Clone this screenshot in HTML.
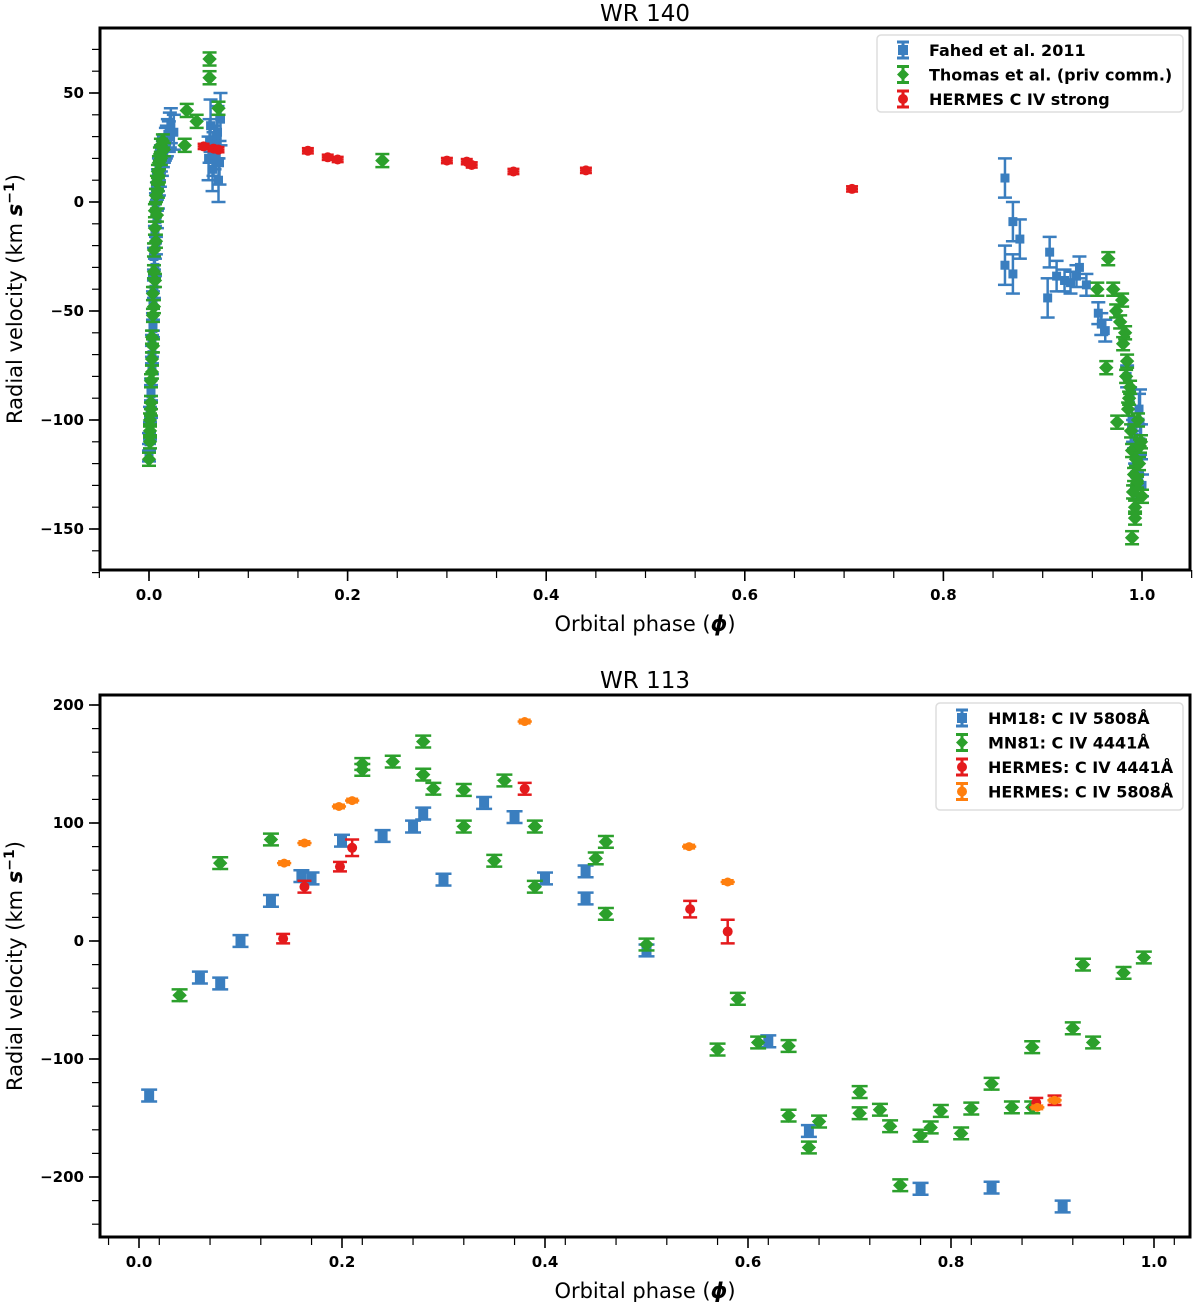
<!DOCTYPE html>
<html><head><meta charset="utf-8"><style>
body{margin:0;background:#fff;}
svg{display:block;font-family:"DejaVu Sans","Liberation Sans",sans-serif;}
.tl{font-weight:bold;font-size:15px;}
</style></head><body>
<svg id="fig" width="1200" height="1302" viewBox="0 0 1200 1302" xmlns="http://www.w3.org/2000/svg"></svg>
<script>
// ===== WR 140 data =====
const t_fahedPhase=[0.000,0.001,0.002,0.002,0.003,0.003,0.004,0.004,0.005,0.005,0.006,0.006,0.007,0.008,0.009,0.010,0.012,0.014,0.016,0.018,0.020,0.022,0.025,0.000,0.001,0.002,0.003,0.004,0.005,0.006,0.007,0.008,0.009,0.010,0.011,0.013,0.015,0.017,0.019,0.021,0.060,0.062,0.064,0.066,0.068,0.070,0.072,0.061,0.065,0.069,0.071,0.862,0.870,0.877,0.862,0.870,0.907,0.905,0.914,0.922,0.928,0.934,0.937,0.944,0.956,0.959,0.963,0.985,0.988,0.990,0.992,0.994,0.996,0.998,1.000,0.997,0.993,0.999,0.995,0.991];
const t_fahedRV=[-115,-105,-95,-85,-75,-65,-55,-45,-35,-25,-15,-5,0,5,10,15,20,22,25,28,30,35,32,-110,-98,-88,-70,-58,-40,-30,-20,-8,2,8,12,18,24,27,31,33,20,35,15,25,30,10,38,28,22,32,18,11,-9,-17,-29,-33,-23,-44,-34,-36,-37,-34,-30,-38,-51,-56,-59,-80,-90,-100,-108,-115,-120,-101,-130,-95,-125,-110,-118,-105];
const t_fahedErr=[4,4,4,4,4,4,4,4,4,4,4,4,4,4,5,5,6,6,6,7,7,8,8,4,4,4,4,4,4,4,4,4,5,5,5,6,6,7,7,8,10,12,10,10,10,10,12,10,10,12,10,9,9,9,9,9,7,9,7,5,5,5,5,5,5,5,5,5,5,5,5,5,5,15,5,7,5,8,6,5];
const t_thomasPhase=[0.000,0.001,0.001,0.002,0.002,0.003,0.003,0.004,0.004,0.005,0.005,0.006,0.006,0.007,0.008,0.009,0.010,0.011,0.012,0.014,0.001,0.002,0.003,0.004,0.005,0.006,0.007,0.008,0.009,0.010,0.012,0.015,0.036,0.038,0.048,0.061,0.061,0.070,0.235,0.966,0.971,0.955,0.974,0.981,0.964,0.985,0.988,0.975,0.990,0.995,0.990,0.993,0.980,0.986,0.997,0.999,1.000,0.983,0.978,0.984,0.987,0.989,0.992,0.994,0.996,0.998,0.991,0.993,0.995];
const t_thomasRV=[-118,-110,-100,-92,-82,-72,-62,-52,-42,-32,-22,-12,-4,3,9,14,18,22,26,28,-105,-95,-78,-66,-48,-36,-18,-6,5,12,20,24,26,42,37,65.6,57,43,19,-26,-40,-40,-50,-65,-76,-73,-85,-101,-114,-129,-154,-140,-45,-95,-120,-110,-135,-60,-55,-80,-90,-105,-125,-118,-100,-112,-133,-145,-128];
const t_thomasErr=3;
const t_hermesPhase=[0.055,0.065,0.070,0.160,0.180,0.190,0.300,0.320,0.325,0.367,0.440,0.708];
const t_hermesRV=[25.5,24.5,24,23.5,20.5,19.5,19,18.5,17,14,14.5,6];
const t_yTicks=[-150,-100,-50,0,50];
const t_xTicks=[0.0,0.2,0.4,0.6,0.8,1.0];
// ===== WR 113 data =====
const b_hmPhase=[0.01,0.06,0.08,0.10,0.13,0.16,0.17,0.20,0.24,0.27,0.28,0.30,0.34,0.37,0.40,0.44,0.44,0.50,0.62,0.66,0.77,0.84,0.91];
const b_hmRV=[-131,-31,-36,0,34,55,53,85,89,97,108,52,117,105,53,59,36,-8,-85,-161,-210,-209,-225];
const b_mnPhase=[0.04,0.08,0.13,0.22,0.22,0.25,0.28,0.28,0.29,0.32,0.32,0.35,0.36,0.39,0.39,0.45,0.46,0.46,0.50,0.57,0.59,0.61,0.64,0.66,0.64,0.67,0.71,0.71,0.73,0.74,0.75,0.77,0.78,0.79,0.81,0.82,0.84,0.86,0.88,0.88,0.92,0.93,0.94,0.97,0.99];
const b_mnRV=[-46,66,86,150,145,152,169,141,129,128,97,68,136,97,46,70,84,23,-3,-92,-49,-86,-89,-175,-148,-153,-128,-146,-143,-157,-207,-165,-158,-144,-163,-142,-121,-141,-90,-141,-74,-20,-86,-27,-14];
const b_h4441Phase=[0.142,0.163,0.198,0.210,0.380,0.543,0.580,0.884,0.902];
const b_h4441RV=[2,46,63,79,129,27,8,-137,-135];
const b_h4441Err=[4,5,4,7,5,7,10,4,4];
const b_h5808Phase=[0.143,0.163,0.197,0.210,0.380,0.542,0.580,0.885,0.902];
const b_h5808RV=[66,83,114,119,186,80,50,-141,-135];
const b_yTicks=[-200,-100,0,100,200];
const b_xTicks=[0.0,0.2,0.4,0.6,0.8,1.0];

const NS="http://www.w3.org/2000/svg";
const svg=document.getElementById('fig');
const C={blue:"#3a7ebf",green:"#2ca02c",red:"#e41a1c",orange:"#ff7f0e"};
function mk(tag,at,parent){const e=document.createElementNS(NS,tag);for(const k in at)e.setAttribute(k,at[k]);(parent||svg).appendChild(e);return e;}

function axes(o){
  const g=mk('g',{});
  
  
  const X=v=>o.x0+(v-o.xmin)*o.xs, Y=v=>o.y0-(v-o.ymin)*o.ys;
  for(let v=o.xMinorStart;v<=o.xMinorEnd+1e-9;v+=o.xMinor){
    const px=X(v); mk('line',{x1:px,x2:px,y1:o.B,y2:o.B+8,stroke:'#000','stroke-width':1.2},g);
  }
  o.xTicks.forEach(v=>{const px=X(v);
    const l=mk('line',{x1:px,x2:px,y1:o.B,y2:o.B+11,stroke:'#000','stroke-width':1.6},g);
     
    const t=mk('text',{x:px,y:o.B+30,'text-anchor':'middle',class:'tl'},g);t.textContent=v.toFixed(1);
     });
  for(let v=o.yMinorStart;v<=o.yMinorEnd+1e-9;v+=o.yMinor){
    const py=Y(v); mk('line',{x1:o.L-8,x2:o.L,y1:py,y2:py,stroke:'#000','stroke-width':1.2},g);
  }
  o.yTicks.forEach(v=>{const py=Y(v);
    const l=mk('line',{x1:o.L-11,x2:o.L,y1:py,y2:py,stroke:'#000','stroke-width':1.6},g);
     
    const t=mk('text',{x:o.L-16,y:py+5,'text-anchor':'end',class:'tl'},g);t.textContent=(v<0?'\u2212'+(-v):String(v));
     });
  const fr=mk('rect',{x:o.L,y:o.T,width:o.R-o.L,height:o.B-o.T,fill:'none',stroke:'#000','stroke-width':3},g);
   
  const ti=mk('text',{x:(o.L+o.R)/2,y:o.T-7,'text-anchor':'middle','font-size':23},g);ti.textContent=o.title;
   
  const xl=mk('text',{x:(o.L+o.R)/2,y:o.B+61,'text-anchor':'middle','font-size':21},g);
  xl.innerHTML='Orbital phase (<tspan font-weight="bold" font-style="italic">\u03d5</tspan>)';
   
  const cy=(o.T+o.B)/2;
  const yl=mk('text',{x:22,y:cy,'text-anchor':'middle','font-size':21,transform:`rotate(-90 22 ${cy})`},g);
  yl.innerHTML='Radial velocity (km <tspan font-weight="bold" font-style="italic">s</tspan><tspan font-size="14" font-weight="bold" dy="-8">\u22121</tspan><tspan dy="8">)</tspan>';
   
  return {X,Y,g};
}
function marker(g,shape,x,y,col,s){
  if(shape==='sq') return mk('rect',{x:x-s/2,y:y-s/2,width:s,height:s,fill:col},g);
  if(shape==='di') return mk('polygon',{points:`${x},${y-s*0.6} ${x+s*0.6},${y} ${x},${y+s*0.6} ${x-s*0.6},${y}`,fill:col},g);
  return mk('circle',{cx:x,cy:y,r:s/2,fill:col},g);
}
function series(ax,name,xs,ys,err,xerr,col,shape,s,cap){
  const g=mk('g',{},ax.g);
   
  xs.forEach((p,i)=>{
    const e=Array.isArray(err)?err[i]:err;
    const px=ax.X(p),py=ax.Y(ys[i]),y1=ax.Y(ys[i]+e),y2=ax.Y(ys[i]-e);
    mk('line',{x1:px,x2:px,y1:y1,y2:y2,stroke:col,'stroke-width':2.5},g);
    mk('line',{x1:px-cap,x2:px+cap,y1:y1,y2:y1,stroke:col,'stroke-width':2.5},g);
    mk('line',{x1:px-cap,x2:px+cap,y1:y2,y2:y2,stroke:col,'stroke-width':2.5},g);
    if(xerr){const a=ax.X(p-xerr),b=ax.X(p+xerr);mk('line',{x1:a,x2:b,y1:py,y2:py,stroke:col,'stroke-width':2.5},g);}
    const m=marker(g,shape,px,py,col,s);
     
  });
}
function legend(x,y,w,h,entries,name){
  const g=mk('g',{});
   
  mk('rect',{x,y,width:w,height:h,rx:4,fill:'#fff',stroke:'#ddd','stroke-width':1.5},g);
  entries.forEach((e,i)=>{
    const cy=y+15+i*24.5, cx=x+26;
    mk('line',{x1:cx,x2:cx,y1:cy-8,y2:cy+8,stroke:e[1],'stroke-width':3},g);
    mk('line',{x1:cx-6,x2:cx+6,y1:cy-8,y2:cy-8,stroke:e[1],'stroke-width':3},g);
    mk('line',{x1:cx-6,x2:cx+6,y1:cy+8,y2:cy+8,stroke:e[1],'stroke-width':3},g);
    marker(g,e[2],cx,cy,e[1],10);
    const t=mk('text',{x:x+52,y:cy+6,'font-weight':'bold','font-size':16},g);t.textContent=e[0];
     
  });
}
const A=axes({name:'wr140-chart',L:100,R:1190,T:28,B:570,x0:149,xmin:0,xs:993,y0:202,ymin:0,ys:2.18,
  xTicks:t_xTicks,yTicks:t_yTicks,xMinor:0.05,xMinorStart:-0.05,xMinorEnd:1.05,yMinor:10,yMinorStart:-170,yMinorEnd:70,title:'WR 140'});
series(A,'fahed-2011',t_fahedPhase,t_fahedRV,t_fahedErr,0,C.blue,'sq',9,7);
series(A,'thomas-priv-comm',t_thomasPhase,t_thomasRV,t_thomasErr,0,C.green,'di',12,7);
series(A,'hermes-civ-strong',t_hermesPhase,t_hermesRV,1.2,0.006,C.red,'ci',10,6);
legend(877,35,306,77,[['Fahed et al. 2011',C.blue,'sq'],['Thomas et al. (priv comm.)',C.green,'di'],['HERMES C IV strong',C.red,'ci']],'wr140-legend');
const B=axes({name:'wr113-chart',L:100,R:1190,T:695,B:1237,x0:139,xmin:0,xs:1015,y0:941,ymin:0,ys:1.18,
  xTicks:b_xTicks,yTicks:b_yTicks,xMinor:0.05,xMinorStart:-0.03,xMinorEnd:1.03,yMinor:20,yMinorStart:-240,yMinorEnd:200,title:'WR 113'});
series(B,'hm18-civ-5808',b_hmPhase,b_hmRV,5,0,C.blue,'sq',10,8);
series(B,'mn81-civ-4441',b_mnPhase,b_mnRV,5,0,C.green,'di',12,8);
series(B,'hermes-civ-4441',b_h4441Phase,b_h4441RV,b_h4441Err,0,C.red,'ci',10,7);
series(B,'hermes-civ-5808',b_h5808Phase,b_h5808RV,1.5,0.007,C.orange,'ci',9,6);
legend(936,703,247,107,[['HM18: C IV 5808\u00c5',C.blue,'sq'],['MN81: C IV 4441\u00c5',C.green,'di'],['HERMES: C IV 4441\u00c5',C.red,'ci'],['HERMES: C IV 5808\u00c5',C.orange,'ci']],'wr113-legend');
</script>
</body></html>
